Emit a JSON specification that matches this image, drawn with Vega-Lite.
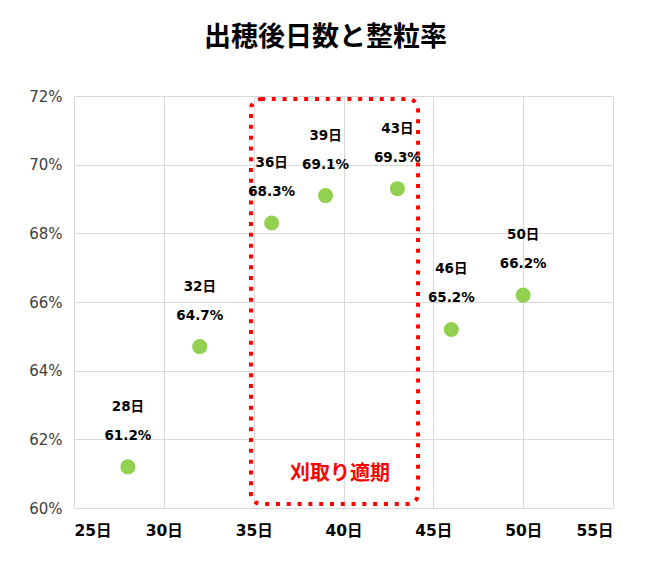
{
  "$schema": "https://vega.github.io/schema/vega-lite/v6.json",
  "width": 539,
  "height": 412,
  "autosize": "none",
  "padding": {"left": 74, "top": 96, "right": 37, "bottom": 61},
  "background": "white",
  "title": {
    "text": "出穂後日数と整粒率",
    "font": "Noto Sans CJK JP",
    "fontSize": 27,
    "fontWeight": "bold",
    "color": "#000000",
    "anchor": "middle",
    "dx": -18,
    "offset": 37
  },
  "datasets": {
    "ripening": [
      {"days": 28, "rate": 0.612},
      {"days": 32, "rate": 0.647},
      {"days": 36, "rate": 0.683},
      {"days": 39, "rate": 0.691},
      {"days": 43, "rate": 0.693},
      {"days": 46, "rate": 0.652},
      {"days": 50, "rate": 0.662}
    ],
    "harvest": [
      {"from": 34.85, "to": 44.15, "low": 0.6012, "high": 0.7191, "labelDays": 39.8, "labelRate": 0.6098, "note": "刈取り適期"}
    ]
  },
  "config": {
    "font": "DejaVu Sans, Noto Sans CJK JP",
    "view": {"stroke": null},
    "axis": {
      "grid": true,
      "gridColor": "#d9d9d9",
      "gridWidth": 1,
      "domain": false,
      "ticks": false,
      "title": null,
      "labelFont": "DejaVu Sans, Noto Sans CJK JP",
      "labelFontSize": 15,
      "labelColor": "#404040"
    }
  },
  "layer": [
    {
      "data": {"name": "harvest"},
      "mark": {"type": "rect", "fill": null, "stroke": "#ff0000", "strokeWidth": 4, "strokeDash": [4, 6.8], "cornerRadius": 10},
      "encoding": {
        "x": {
          "field": "from",
          "type": "quantitative",
          "scale": {"domain": [25, 55], "nice": false, "zero": false},
          "axis": {"values": [25, 30, 35, 40, 45, 50, 55], "labelExpr": "datum.value + '日'", "labelFontWeight": "bold", "labelFontSize": 15.5, "labelColor": "#000000", "labelPadding": 15}
        },
        "x2": {"field": "to"},
        "y": {
          "field": "low",
          "type": "quantitative",
          "scale": {"domain": [0.6, 0.72], "nice": false, "zero": false},
          "axis": {"values": [0.6, 0.62, 0.64, 0.66, 0.68, 0.7, 0.72], "format": ".0%", "labelPadding": 12}
        },
        "y2": {"field": "high"}
      }
    },
    {
      "data": {"name": "harvest"},
      "mark": {"type": "text", "font": "Noto Sans CJK JP", "color": "#ff0000", "fontSize": 20, "fontWeight": "bold", "baseline": "middle"},
      "encoding": {
        "x": {"field": "labelDays", "type": "quantitative", "scale": {"domain": [25, 55], "nice": false, "zero": false}},
        "y": {"field": "labelRate", "type": "quantitative", "scale": {"domain": [0.6, 0.72], "nice": false, "zero": false}},
        "text": {"field": "note"}
      }
    },
    {
      "data": {"name": "ripening"},
      "mark": {"type": "circle", "color": "#92d050", "opacity": 1, "size": 227},
      "encoding": {
        "x": {"field": "days", "type": "quantitative", "scale": {"domain": [25, 55], "nice": false, "zero": false}},
        "y": {"field": "rate", "type": "quantitative", "scale": {"domain": [0.6, 0.72], "nice": false, "zero": false}}
      }
    },
    {
      "data": {"name": "ripening"},
      "mark": {"type": "text", "fontSize": 13.5, "fontWeight": "bold", "color": "#000000", "dy": -31, "baseline": "middle"},
      "encoding": {
        "x": {"field": "days", "type": "quantitative", "scale": {"domain": [25, 55], "nice": false, "zero": false}},
        "y": {"field": "rate", "type": "quantitative", "scale": {"domain": [0.6, 0.72], "nice": false, "zero": false}},
        "text": {"field": "rate", "type": "quantitative", "format": ".1%"}
      }
    },
    {
      "data": {"name": "ripening"},
      "mark": {"type": "text", "fontSize": 13.5, "fontWeight": "bold", "color": "#000000", "dy": -60, "baseline": "middle", "text": {"expr": "datum.days + '日'"}},
      "encoding": {
        "x": {"field": "days", "type": "quantitative", "scale": {"domain": [25, 55], "nice": false, "zero": false}},
        "y": {"field": "rate", "type": "quantitative", "scale": {"domain": [0.6, 0.72], "nice": false, "zero": false}}
      }
    }
  ]
}
